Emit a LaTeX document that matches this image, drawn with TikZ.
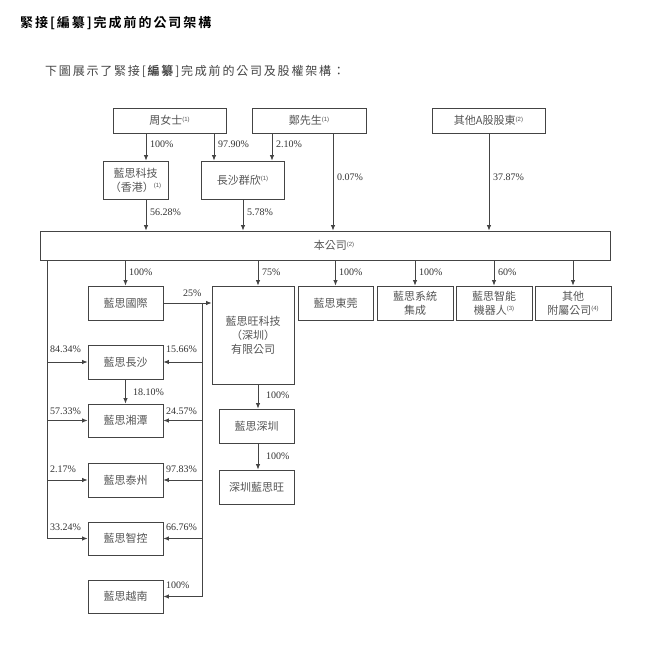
\documentclass[tikz,border=0pt]{standalone}
\usepackage{fontspec}
\usetikzlibrary{arrows.meta}
\setmainfont{Liberation Serif}
\newfontfamily\cjk[BoldFont={* Bold}]{Noto Sans CJK TC}
\newfontfamily\cjktitle[LetterSpace=15,BoldFont={* Bold}]{Noto Sans CJK TC}
\newfontfamily\smallsans{Liberation Sans}
\definecolor{linec}{HTML}{444444}
\definecolor{boxtxt}{HTML}{555555}
\definecolor{pcttxt}{HTML}{333333}
\newcommand{\fnm}[1]{\raisebox{0.6ex}{\smallsans\fontsize{6}{6}\selectfont(#1)}}
\tikzset{
  box/.style={draw=linec, line width=0.9pt, fill=white, text=boxtxt,
    font=\cjk\fontsize{11}{14}\selectfont, align=center, inner sep=0pt},
  pct/.style={anchor=west, inner sep=0pt, text=pcttxt, font=\fontsize{10}{12}\selectfont},
  arr/.style={draw=linec, line width=0.8pt, -{Latex[length=5.5pt,width=4.5pt]}},
  ln/.style={draw=linec, line width=0.8pt}
}
\begin{document}
\begin{tikzpicture}[x=1pt,y=-1pt]
\fill[white] (0,0) rectangle (645,648);
\useasboundingbox (0,0) rectangle (645,648);

% heading
\node[anchor=west, inner sep=0pt, font=\cjktitle\bfseries\fontsize{13}{15}\selectfont] (title) at (20,23) {緊接[編纂]完成前的公司架構};
\node[anchor=west, inner sep=0pt, text=linec, font=\cjktitle\fontsize{12}{14}\selectfont] (intro) at (45,71) {下圖展示了緊接[\textbf{編纂}]完成前的公司及股權架構：};

% shareholders
\node[box, minimum width=113, minimum height=25] (zhou) at (169.5,120.5) {周女士\fnm{1}};
\node[box, minimum width=114, minimum height=25] (zheng) at (309,120.5) {鄭先生\fnm{1}};
\node[box, minimum width=113, minimum height=25] (ashare) at (488.5,120.5) {其他A股股東\fnm{2}};
\node[box, minimum width=65, minimum height=38] (hk) at (135.5,180) {藍思科技\\（香港）\fnm{1}};
\node[box, minimum width=83, minimum height=38] (qunxin) at (242.5,180) {長沙群欣\fnm{1}};

% the company
\node[box, minimum width=570, minimum height=29] (lens) at (325,245.5) {};
\node[inner sep=0pt, text=boxtxt, font=\cjk\fontsize{11}{14}\selectfont] (lenslbl) at (334,245.5) {本公司\fnm{2}};

% subsidiaries
\node[box, minimum width=75, minimum height=34] (intl) at (125.5,303) {藍思國際};
\node[box, minimum width=82, minimum height=98] (wang) at (253,335) {藍思旺科技\\（深圳）\\有限公司};
\node[box, minimum width=75, minimum height=34] (dg) at (335.5,303) {藍思東莞};
\node[box, minimum width=76, minimum height=34] (sys) at (415,303) {藍思系統\\集成};
\node[box, minimum width=76, minimum height=34] (robot) at (494,303) {藍思智能\\機器人\fnm{3}};
\node[box, minimum width=76, minimum height=34] (others) at (573,303) {其他\\附屬公司\fnm{4}};
\node[box, minimum width=75, minimum height=34] (cs) at (125.5,362) {藍思長沙};
\node[box, minimum width=75, minimum height=33] (xt) at (125.5,420.5) {藍思湘潭};
\node[box, minimum width=75, minimum height=34] (tz) at (125.5,480) {藍思泰州};
\node[box, minimum width=75, minimum height=33] (zk) at (125.5,538.5) {藍思智控};
\node[box, minimum width=75, minimum height=33] (vn) at (125.5,596.5) {藍思越南};
\node[box, minimum width=75, minimum height=34] (szls) at (256.5,426) {藍思深圳};
\node[box, minimum width=75, minimum height=34] (szw) at (256.5,487) {深圳藍思旺};

% arrow columns
\coordinate (c1) at (146,0);
\coordinate (c2) at (214,0);
\coordinate (c3) at (272,0);
\coordinate (c4) at (333,0);
\coordinate (c5) at (489,0);
\coordinate (c6) at (243,0);
\coordinate (lt) at (47,0);
\coordinate (rt) at (202,0);

% upper holdings
\draw[arr] (zhou.south -| c1) -- (hk.north -| c1);
\draw[arr] (zhou.south -| c2) -- (qunxin.north -| c2);
\draw[arr] (zheng.south -| c3) -- (qunxin.north -| c3);
\draw[arr] (zheng.south -| c4) -- (lens.north -| c4);
\draw[arr] (ashare.south -| c5) -- (lens.north -| c5);
\draw[arr] (hk.south -| c1) -- (lens.north -| c1);
\draw[arr] (qunxin.south -| c6) -- (lens.north -| c6);
\node[pct] (p1) at (150,144) {100\%};
\node[pct] (p2) at (218,144) {97.90\%};
\node[pct] (p3) at (276,144) {2.10\%};
\node[pct] (p4) at (337,177) {0.07\%};
\node[pct] (p5) at (493,177) {37.87\%};
\node[pct] (p6) at (150,212) {56.28\%};
\node[pct] (p7) at (247,212) {5.78\%};

% direct subsidiaries
\draw[arr] (lens.south -| intl) -- (intl.north);
\draw[arr] (lens.south -| 258,0) -- (wang.north -| 258,0);
\draw[arr] (lens.south -| dg) -- (dg.north);
\draw[arr] (lens.south -| sys) -- (sys.north);
\draw[arr] (lens.south -| robot) -- (robot.north);
\draw[arr] (lens.south -| others) -- (others.north);
\node[pct] (p8) at (129,272) {100\%};
\node[pct] (p9) at (262,272) {75\%};
\node[pct] (p10) at (339,272) {100\%};
\node[pct] (p11) at (419,272) {100\%};
\node[pct] (p12) at (498,272) {60\%};

% left trunk
\draw[ln] (lens.south -| lt) -- (lt |- zk);
\foreach \n in {cs,xt,tz,zk}
  \draw[arr] (lt |- \n) -- (\n.west);

% right trunk from intl
\draw[arr] (intl.east) -- (wang.west |- intl);
\draw[ln] (rt |- intl) -- (rt |- vn);
\foreach \n in {cs,xt,tz,zk,vn}
  \draw[arr] (rt |- \n) -- (\n.east);
\draw[arr] (cs.south) -- (xt.north);
\node[pct] (p13) at (183,293) {25\%};
\node[pct] (p14) at (50,349) {84.34\%};
\node[pct] (p15) at (166,349) {15.66\%};
\node[pct] (p16) at (133,392) {18.10\%};
\node[pct] (p17) at (50,411) {57.33\%};
\node[pct] (p18) at (166,411) {24.57\%};
\node[pct] (p19) at (50,469) {2.17\%};
\node[pct] (p20) at (166,469) {97.83\%};
\node[pct] (p21) at (50,527) {33.24\%};
\node[pct] (p22) at (166,527) {66.76\%};
\node[pct] (p23) at (166,585) {100\%};

% shenzhen chain
\draw[arr] (wang.south -| 258,0) -- (szls.north -| 258,0);
\draw[arr] (szls.south -| 258,0) -- (szw.north -| 258,0);
\node[pct] (p24) at (266,395) {100\%};
\node[pct] (p25) at (266,456) {100\%};

\end{tikzpicture}
\end{document}
